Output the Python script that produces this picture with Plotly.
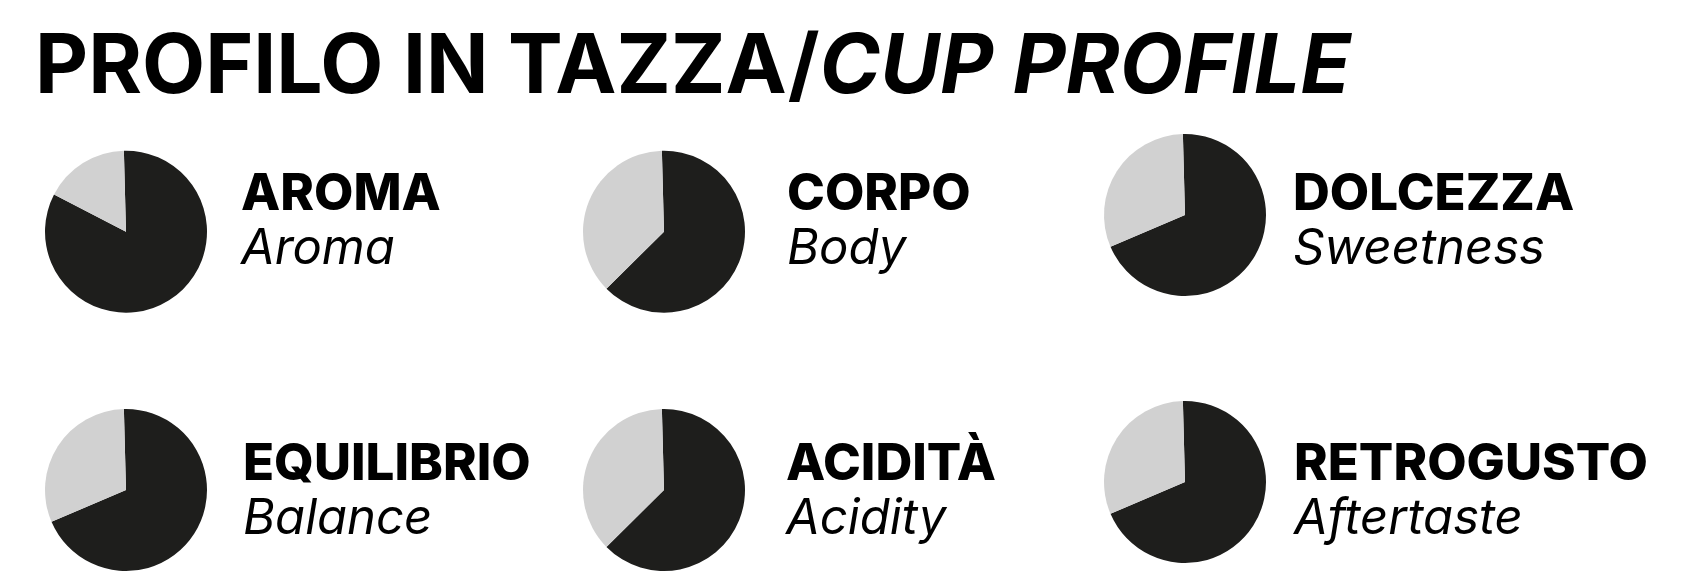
import plotly.graph_objects as go

# ---- data ----
labels_it = ["AROMA", "CORPO", "DOLCEZZA", "EQUILIBRIO", "ACIDITÀ", "RETROGUSTO"]
labels_en = ["Aroma", "Body", "Sweetness", "Balance", "Acidity", "Aftertaste"]
score = [83, 63, 69, 69, 63, 69]
remainder = [17, 37, 31, 31, 37, 31]
slice_names = ["score", "rest"]

# ---- layout constants (pixels, page coordinates) ----
W, H = 1688, 572
OFF = 8  # default body margin of the html page
R = 81
pie_centers = [(126, 231.7), (664, 231.7), (1185, 215), (126, 490), (664, 490), (1185, 482)]
text_x = [238, 785, 1291, 241, 783, 1291]
block_y = [218.5, 218.5, 218.5, 488, 488, 488]

DARK = "#1e1e1c"
LIGHT = "#d1d1d1"
FONT = "Inter"


def px(x):
    return (x - OFF) / W


def py(y):
    return 1 - (y - OFF) / H


fig = go.Figure()
for i in range(len(labels_it)):
    cx, cy = pie_centers[i]
    fig.add_trace(go.Pie(
        labels=slice_names,
        values=[score[i], remainder[i]],
        sort=False,
        direction="clockwise",
        rotation=-1.5,
        marker=dict(colors=[DARK, LIGHT], line=dict(width=0)),
        textinfo="none",
        hoverinfo="skip",
        showlegend=False,
        domain=dict(x=[px(cx - R), px(cx + R)],
                    y=[py(cy + R), py(cy - R)]),
    ))

annotations = [dict(
    text="<b>PROFILO IN TAZZA/<i>CUP PROFILE</i></b>",
    x=px(33), y=py(63.3), xref="paper", yref="paper",
    xanchor="left", yanchor="middle", showarrow=False,
    font=dict(family=FONT, size=82, color="#000000", weight=900),
)]
for i in range(len(labels_it)):
    txt = ('<span style="font-size:51px;font-weight:800">' + labels_it[i] + '</span><br>'
           '<span style="font-size:49px;font-weight:400;font-style:italic">' + labels_en[i] + '</span>')
    annotations.append(dict(
        text=txt, x=px(text_x[i]), y=py(block_y[i]),
        xref="paper", yref="paper", xanchor="left", yanchor="middle",
        align="left", showarrow=False,
        font=dict(family=FONT, size=41.5, color="#000000"),
    ))

fig.update_layout(
    width=W, height=H, autosize=False,
    margin=dict(l=0, r=0, t=0, b=0),
    paper_bgcolor="#ffffff", plot_bgcolor="#ffffff",
    annotations=annotations,
    showlegend=False,
)

fig.write_html("out.html")
